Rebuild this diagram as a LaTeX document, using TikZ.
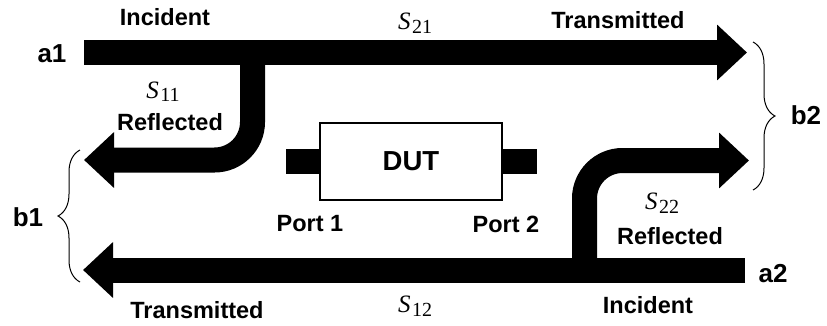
\documentclass[tikz,border=0pt]{standalone}
\usepackage{fontspec}
\setmainfont{Liberation Sans}
\newfontfamily\smfont{Liberation Serif}
\usetikzlibrary{arrows.meta,decorations.pathreplacing}
\newcommand{\spar}[1]{{\smfont\itshape S}\kern1.5pt\raisebox{-3.5pt}{\smfont\fontsize{20}{22}\selectfont #1}}
\begin{document}
\begin{tikzpicture}[x=1pt,y=-1pt,
  flow/.style={line width=25pt,-{Triangle[length=30pt,width=54pt]}},
  branch/.style={flow,rounded corners=38pt},
  lbl/.style={font=\fontsize{23.5}{26}\selectfont\bfseries,inner sep=0pt},
  sig/.style={font=\fontsize{26}{30}\selectfont\bfseries,inner sep=0pt},
  mth/.style={font=\fontsize{25}{28}\selectfont,inner sep=0pt},
  brc/.style={decorate,decoration={brace,amplitude=22pt},line width=1pt}
]
\useasboundingbox (0,0) rectangle (827,325);

% flow coordinates
\coordinate (a1s) at (84,52.5);
\coordinate (b2t) at (747,52.5);
\coordinate (j1) at (252.5,52.5);
\coordinate (k1) at (252.5,160);
\coordinate (b1t) at (84,160);
\coordinate (a2s) at (745,270);
\coordinate (b1b) at (83,270);
\coordinate (j2) at (584.5,270);
\coordinate (k2) at (584.5,160.5);
\coordinate (b2b) at (749,160.5);

\draw[flow] (a1s) -- (b2t);
\draw[branch] (j1) -- (k1) -- (b1t);
\draw[flow] (a2s) -- (b1b);
\draw[branch] (j2) -- (k2) -- (b2b);

% DUT
\node[draw=none,minimum width=182pt,minimum height=77pt,inner sep=0pt] (dutarea) at (411,161.5) {};
\node[fill=black,minimum width=34pt,minimum height=25pt,inner sep=0pt,anchor=east] (p1) at (dutarea.west) {};
\node[fill=black,minimum width=35pt,minimum height=25pt,inner sep=0pt,anchor=west] (p2) at (dutarea.east) {};
\node[draw,fill=white,line width=2pt,minimum width=182pt,minimum height=77pt,inner sep=0pt,
      font=\fontsize{27.5}{30}\selectfont\bfseries] (dut) at (411,161.5) {DUT};

% braces
\coordinate (b2u) at (753,42);
\coordinate (b2d) at (753,190);
\coordinate (b1u) at (80,150);
\coordinate (b1d) at (80,282);
\draw[brc] (b2u) -- (b2d);
\draw[brc] (b1d) -- (b1u);

% labels
\node[lbl] (inc1) at (165,17) {Incident};
\node[mth] (s21) at (415,23) {\spar{21}};
\node[lbl] (tr1) at (618,20) {Transmitted};
\node[sig] (a1) at (52,54) {a1};
\node[mth] (s11) at (163,91.5) {\spar{11}};
\node[lbl] (rf1) at (170,122) {Reflected};
\node[lbl] (pt1) at (310,224) {Port 1};
\node[lbl] (pt2) at (506,224) {Port 2};
\node[mth] (s22) at (662,203) {\spar{22}};
\node[lbl] (rf2) at (670,236) {Reflected};
\node[sig] (a2) at (773,274) {a2};
\node[lbl] (tr2) at (197,310) {Transmitted};
\node[mth] (s12) at (415,306) {\spar{12}};
\node[lbl] (inc2) at (648,305) {Incident};
\node[sig] (b1) at (28,217) {b1};
\node[sig] (b2) at (806,115) {b2};
\end{tikzpicture}
\end{document}
